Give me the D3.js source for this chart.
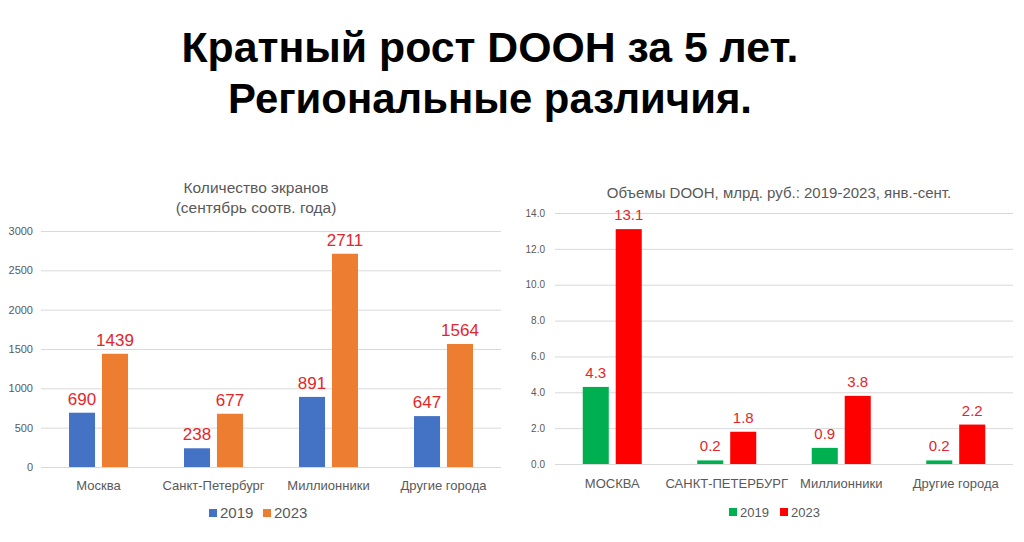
<!DOCTYPE html>
<html>
<head>
<meta charset="utf-8">
<script src="https://cdn.jsdelivr.net/npm/d3@7"></script>
<style>
html,body{margin:0;padding:0;background:#fff;}
svg{display:block;}
</style>
</head>
<body>
<svg id="chart" width="1024" height="542"></svg>
<script>
// ---- data ----
const titleLines = ["Кратный рост DOOH за 5 лет.", "Региональные различия."];
const years = ["2019", "2023"];

const screensTitle = ["Количество экранов", "(сентябрь соотв. года)"];
const screensCategories = ["Москва", "Санкт-Петербург", "Миллионники", "Другие города"];
const screens2019 = [690, 238, 891, 647];
const screens2023 = [1439, 677, 2711, 1564];
const screensTicks = [0, 500, 1000, 1500, 2000, 2500, 3000];

const doohTitle = ["Объемы DOOH, млрд. руб.: 2019-2023, янв.-сент."];
const doohCategories = ["МОСКВА", "САНКТ-ПЕТЕРБУРГ", "Миллионники", "Другие города"];
const dooh2019 = [4.3, 0.2, 0.9, 0.2];
const dooh2023 = [13.1, 1.8, 3.8, 2.2];
const doohTicks = [0, 2, 4, 6, 8, 10, 12, 14];

const svg = d3.select("#chart");

// ---- main title ----
const titleFont = "'Liberation Sans Narrow','Arial Narrow','Liberation Sans',Arial,sans-serif";
const tl = svg.append("g");
const titleWidths = [617, 524];
const titleY = [62, 113];
titleLines.forEach((t, i) => {
  tl.append("text")
    .attr("x", 490).attr("y", titleY[i])
    .attr("text-anchor", "middle")
    .attr("font-family", titleFont)
    .attr("font-weight", "bold")
    .attr("font-size", 43)
    .attr("fill", "#000")
    .attr("textLength", titleWidths[i])
    .attr("lengthAdjust", "spacingAndGlyphs")
    .text(t);
});

const font = "'Liberation Sans','Open Sans',Arial,sans-serif";
const grey = "#595959";
const labelRed = "#E3262B";

function drawChart(cfg) {
  const g = svg.append("g");
  const y = d3.scaleLinear().domain(cfg.domain).range([cfg.y0, cfg.y1]);
  const x0 = d3.scaleBand().domain(cfg.categories).range([cfg.xl, cfg.xr]).padding(0);
  const half = 29.5;
  const x1 = d3.scaleBand().domain(years)
    .range([x0.bandwidth() / 2 - half, x0.bandwidth() / 2 + half]).paddingInner(0.21);

  // gridlines
  const yAxis = d3.axisLeft(y).tickValues(cfg.ticks).tickSize(-(cfg.xr - cfg.xl)).tickFormat(cfg.fmt).tickPadding(cfg.tickPad);
  const ag = g.append("g").attr("transform", `translate(${cfg.xl},0)`).call(yAxis);
  ag.select(".domain").remove();
  ag.selectAll(".tick line").attr("stroke", "#d9d9d9").attr("stroke-width", 1);
  ag.selectAll(".tick text").attr("font-family", font).attr("font-size", cfg.tickSize).attr("fill", grey);

  // bars
  const series = [cfg.s2019, cfg.s2023];
  cfg.categories.forEach((c, ci) => {
    years.forEach((yr, si) => {
      const v = series[si][ci];
      const bx = x0(c) + x1(yr);
      g.append("rect")
        .attr("x", bx).attr("width", x1.bandwidth())
        .attr("y", y(v)).attr("height", y(0) - y(v))
        .attr("fill", cfg.colors[si]);
      g.append("text")
        .attr("x", bx + x1.bandwidth() / 2)
        .attr("y", y(v) - cfg.labelGap)
        .attr("text-anchor", "middle")
        .attr("font-family", font)
        .attr("font-size", cfg.labelSize)
        .attr("fill", labelRed)
        .text(cfg.valFmt(v));
    });
  });

  // x axis labels
  const xAxis = d3.axisBottom(x0).tickSize(0).tickPadding(0);
  const xg = g.append("g").attr("transform", `translate(0,${cfg.xLabelY})`).call(xAxis);
  xg.select(".domain").remove();
  xg.selectAll(".tick text").attr("font-family", font).attr("font-size", cfg.catSize).attr("fill", grey).attr("dy", "0");

  // title
  cfg.title.forEach((t, i) => {
    g.append("text")
      .attr("x", cfg.titleX).attr("y", cfg.titleY + i * 20)
      .attr("text-anchor", "middle")
      .attr("font-family", font)
      .attr("font-size", cfg.titleSize)
      .attr("fill", grey)
      .text(t);
  });

  // legend
  years.forEach((yr, i) => {
    const lx = cfg.legendX[i];
    g.append("rect").attr("x", lx).attr("y", cfg.legendY - 9).attr("width", cfg.sq).attr("height", cfg.sq).attr("fill", cfg.colors[i]);
    g.append("text").attr("x", lx + cfg.sq + 3).attr("y", cfg.legendY)
      .attr("font-family", font).attr("font-size", cfg.legendSize).attr("fill", grey).text(yr);
  });
}

drawChart({
  categories: screensCategories, s2019: screens2019, s2023: screens2023,
  domain: [0, 3000], ticks: screensTicks, y0: 467, y1: 231,
  xl: 41, xr: 501, fmt: d3.format("d"), tickPad: 8, tickSize: 11,
  colors: ["#4472C4", "#ED7D31"], labelGap: 8, labelSize: 17, valFmt: d3.format("d"),
  xLabelY: 490, catSize: 13,
  title: screensTitle, titleX: 256, titleY: 193, titleSize: 15.5,
  legendX: [209, 263], legendY: 518, sq: 8, legendSize: 15
});

drawChart({
  categories: doohCategories, s2019: dooh2019, s2023: dooh2023,
  domain: [0, 14], ticks: doohTicks, y0: 464, y1: 213,
  xl: 555, xr: 1013, fmt: d3.format(".1f"), tickPad: 10, tickSize: 10,
  colors: ["#00B050", "#FF0000"], labelGap: 9, labelSize: 15, valFmt: d3.format(".1f"),
  xLabelY: 488, catSize: 13,
  title: doohTitle, titleX: 779, titleY: 198, titleSize: 15,
  legendX: [729, 780], legendY: 517, sq: 8, legendSize: 13
});
</script>
</body>
</html>
